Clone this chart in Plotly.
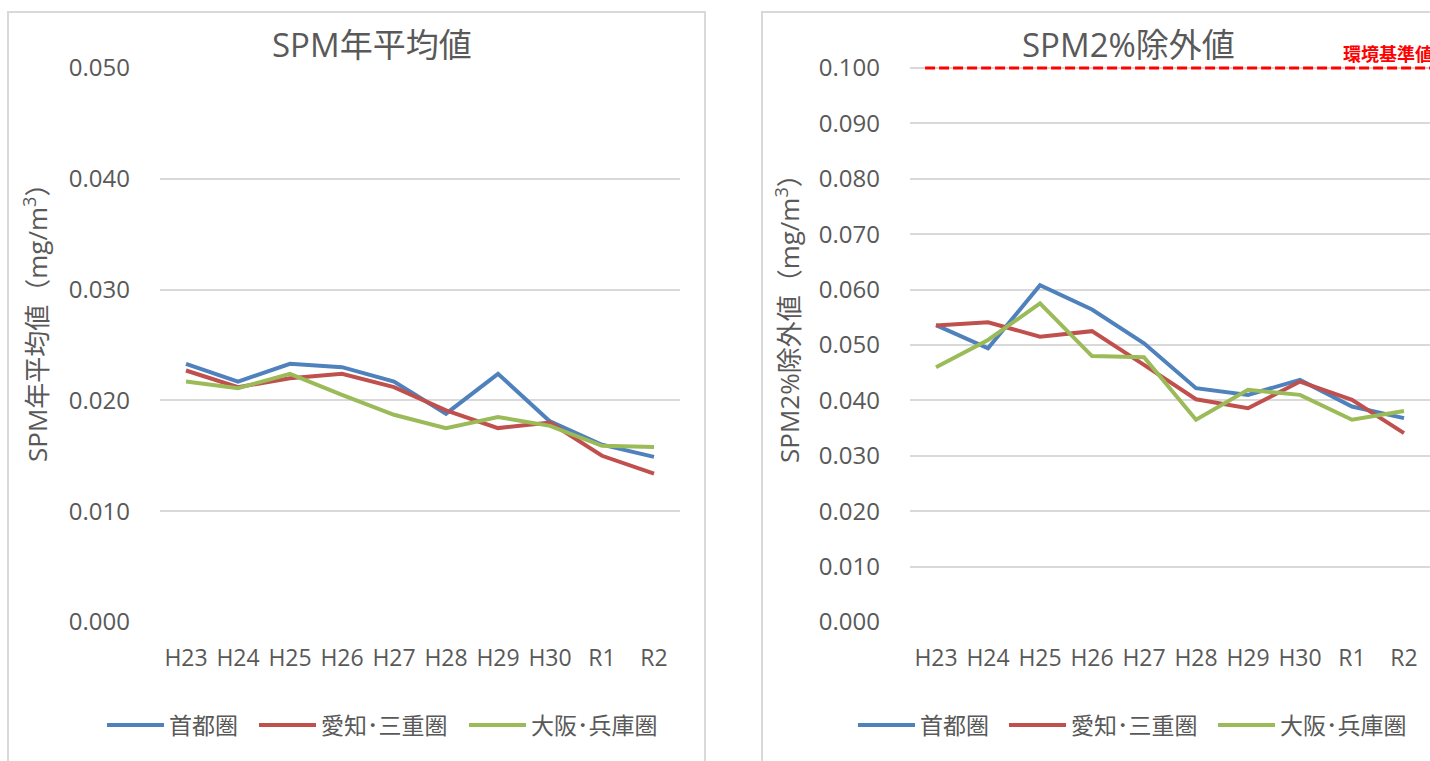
import plotly.graph_objects as go

# ---------------- data ----------------
categories = ["H23", "H24", "H25", "H26", "H27", "H28", "H29", "H30", "R1", "R2"]
series_names = ["首都圏", "愛知･三重圏", "大阪･兵庫圏"]

# SPM annual mean (mg/m3)
annual_shutoken = [0.0233, 0.0217, 0.0233, 0.0230, 0.0217, 0.0188, 0.0224, 0.0181, 0.0160, 0.0149]
annual_aichi = [0.0227, 0.0212, 0.0220, 0.0224, 0.0212, 0.0191, 0.0175, 0.0180, 0.0150, 0.0134]
annual_osaka = [0.0217, 0.0211, 0.0224, 0.0205, 0.0187, 0.0175, 0.0185, 0.0177, 0.0159, 0.0158]

# SPM 2% excluded value (mg/m3)
excl_shutoken = [0.0536, 0.0494, 0.0608, 0.0564, 0.0503, 0.0422, 0.0410, 0.0437, 0.0389, 0.0368]
excl_aichi = [0.0535, 0.0541, 0.0515, 0.0525, 0.0464, 0.0402, 0.0386, 0.0434, 0.0401, 0.0341]
excl_osaka = [0.0460, 0.0509, 0.0575, 0.0480, 0.0478, 0.0365, 0.0419, 0.0410, 0.0365, 0.0381]

env_standard = 0.100
env_label = "環境基準値"

left_title = "SPM年平均値"
right_title = "SPM2%除外値"
left_ytitle = "SPM年平均値（mg/m<sup>3</sup>）"
right_ytitle = "SPM2%除外値（mg/m<sup>3</sup>）"

left_ticks = [0.000, 0.010, 0.020, 0.030, 0.040, 0.050]
right_ticks = [0.000, 0.010, 0.020, 0.030, 0.040, 0.050, 0.060, 0.070, 0.080, 0.090, 0.100]

colors = ["#4F81BD", "#C0504D", "#9BBB59"]

# ---------------- figure ----------------
W, H = 1430, 761
FONT = "Open Sans, Noto Sans CJK JP, sans-serif"
TXT = "#595959"
GRID = "#D9D9D9"


def px(x):
    return x / W


def py(y):
    return 1 - y / H


fig = go.Figure()

left_series = [annual_shutoken, annual_aichi, annual_osaka]
right_series = [excl_shutoken, excl_aichi, excl_osaka]

# one legend box per entry so entries sit where the original has them
legend_x_left = [107, 259, 469]
legend_x_right = [858, 1009, 1218]

legend_layout = {}
k = 0
for panel, (series, axes, lx) in enumerate([(left_series, ("x", "y"), legend_x_left),
                                             (right_series, ("x2", "y2"), legend_x_right)]):
    for name, vals, c, xpos in zip(series_names, series, colors, lx):
        k += 1
        lname = "legend" if k == 1 else f"legend{k}"
        fig.add_trace(go.Scatter(x=categories, y=vals, name=name, mode="lines",
                                 line=dict(color=c, width=4), xaxis=axes[0], yaxis=axes[1],
                                 legend=lname))
        legend_layout[lname] = dict(orientation="h", xref="container", yref="container",
                                    x=px(xpos - 5), y=py(725), xanchor="left", yanchor="middle",
                                    font=dict(family=FONT, size=23, color=TXT), itemwidth=57,
                                    bgcolor="rgba(0,0,0,0)")

common_x = dict(type="category", range=[-0.5, len(categories) - 0.5], showgrid=False,
                showline=False, zeroline=False, ticks="", automargin=False,
                tickfont=dict(family=FONT, size=23, color=TXT), ticklabelstandoff=20)
common_y = dict(showgrid=True, gridcolor=GRID, gridwidth=2, zeroline=False, showline=False,
                ticks="", tickformat=".3f", automargin=False,
                tickfont=dict(family=FONT, size=24, color=TXT), ticklabelstandoff=29)

ydom_left = [py(622), py(68)]
# right axis extends slightly above 0.100 so the standard line isn't clipped
ydom_right = [py(622), py(57)]

fig.update_layout(
    width=W, height=H,
    margin=dict(l=0, r=0, t=0, b=0, autoexpand=False),
    paper_bgcolor="white", plot_bgcolor="white",
    font=dict(family=FONT, color=TXT),
    xaxis=dict(domain=[px(160), px(680)], anchor="y", **common_x),
    yaxis=dict(domain=ydom_left, anchor="x", range=[0, 0.05], tickvals=left_ticks, **common_y),
    xaxis2=dict(domain=[px(910), px(1430)], anchor="y2", **common_x),
    yaxis2=dict(domain=ydom_right, anchor="x2", range=[0, 0.1 * (622 - 57) / (622 - 68)],
                tickvals=right_ticks, **common_y),
    showlegend=True,
    **legend_layout,
)

# panel borders
fig.add_shape(type="rect", xref="paper", yref="paper", x0=px(8), x1=px(705), y0=-0.05, y1=py(12),
              line=dict(color=GRID, width=2), fillcolor="rgba(0,0,0,0)", layer="below")
fig.add_shape(type="rect", xref="paper", yref="paper", x0=px(762), x1=1.05, y0=-0.05, y1=py(12),
              line=dict(color=GRID, width=2), fillcolor="rgba(0,0,0,0)", layer="below")

# environmental standard line
fig.add_shape(type="line", xref="x2", yref="y2", x0=-0.21, x1=len(categories) - 0.5,
              y0=env_standard, y1=env_standard,
              line=dict(color="#FF0000", width=3, dash="10px,4px"))

annotations = [
    dict(text=left_title, x=px(372), y=py(44), xref="paper", yref="paper", showarrow=False,
         font=dict(family=FONT, size=33, color=TXT), xanchor="center", yanchor="middle"),
    dict(text=right_title, x=px(1128), y=py(44), xref="paper", yref="paper", showarrow=False,
         font=dict(family=FONT, size=33, color=TXT), xanchor="center", yanchor="middle"),
    dict(text=left_ytitle, x=px(36), y=py(316), xref="paper", yref="paper", showarrow=False,
         textangle=-90, font=dict(family=FONT, size=26, color=TXT), xanchor="center", yanchor="middle"),
    dict(text=right_ytitle, x=px(788), y=py(312), xref="paper", yref="paper", showarrow=False,
         textangle=-90, font=dict(family=FONT, size=26, color=TXT), xanchor="center", yanchor="middle"),
    dict(text="<b>" + env_label + "</b>", x=px(1341), y=py(54), xref="paper", yref="paper",
         showarrow=False, font=dict(family=FONT, size=18, color="#FF0000"),
         xanchor="left", yanchor="middle"),
]
fig.update_layout(annotations=annotations)

fig.write_html("out.html", config={"displayModeBar": False},
               post_script="document.body.style.margin='0px';")
